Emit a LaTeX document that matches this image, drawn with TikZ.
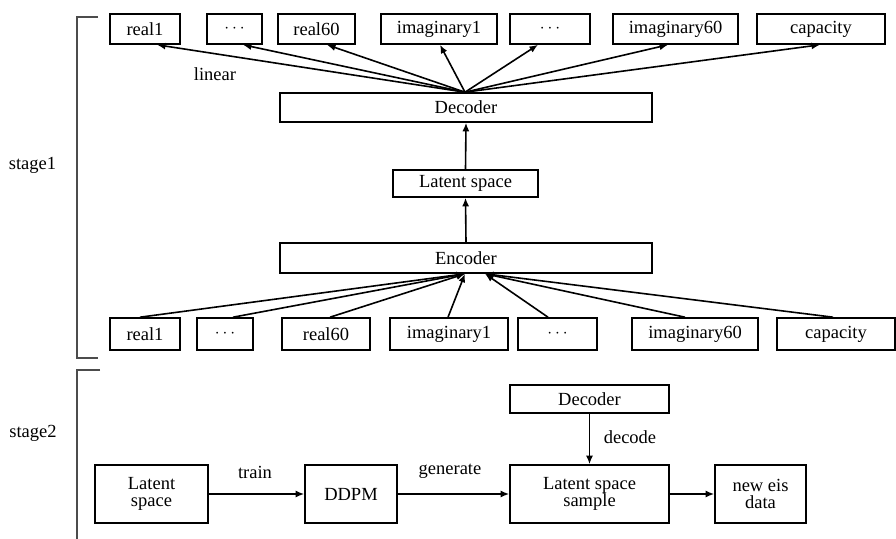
\documentclass[tikz,border=0pt]{standalone}
\usepackage{fontspec}
\setmainfont{Liberation Serif}
\usetikzlibrary{arrows.meta}
\begin{document}
\begin{tikzpicture}[x=1pt,y=-1pt,
  every node/.style={font=\fontsize{18.5}{17}\selectfont},
  box/.style={draw=black,line width=1.6pt,inner sep=0pt,align=center},
  arr/.style={line width=1.6pt,-{Latex[length=8.5pt,width=7pt]}},
  brk/.style={draw=black!70,line width=1.8pt},
  lbl/.style={inner sep=0pt}]
\useasboundingbox (0,0) rectangle (896,538);
% stage1 top row
\node[box,minimum width=70,minimum height=30] (t1) at (145,29) {real1};
\node[box,minimum width=55,minimum height=30] (t2) at (234.5,29) {$\cdots$};
\node[box,minimum width=77,minimum height=30] (t3) at (316.5,29) {real60};
\node[box,minimum width=116,minimum height=30] (t4) at (439,29) {imaginary1};
\node[box,minimum width=80,minimum height=30] (t5) at (550,29) {$\cdots$};
\node[box,minimum width=125,minimum height=30] (t6) at (675.5,29) {imaginary60};
\node[box,minimum width=128,minimum height=30] (t7) at (821,29) {capacity};
% middle
\node[box,minimum width=372,minimum height=29] (dec) at (466,107.5) {Decoder};
\node[box,minimum width=145,minimum height=27] (lat) at (465.5,183.5) {Latent space};
\node[box,minimum width=372,minimum height=30] (enc) at (466,258) {Encoder};
% bottom row
\node[box,minimum width=70,minimum height=32] (b1) at (145,334) {real1};
\node[box,minimum width=56,minimum height=32] (b2) at (225,334) {$\cdots$};
\node[box,minimum width=88,minimum height=32] (b3) at (326,334) {real60};
\node[box,minimum width=118,minimum height=32] (b4) at (449,334) {imaginary1};
\node[box,minimum width=79,minimum height=32] (b5) at (557.5,334) {$\cdots$};
\node[box,minimum width=126,minimum height=32] (b6) at (695,334) {imaginary60};
\node[box,minimum width=118,minimum height=32] (b7) at (836,334) {capacity};
% decoder fan-out
\coordinate (dtop) at ([xshift=-1]dec.north);
\draw[arr] (dtop) -- ([xshift=12]t1.south);
\draw[arr] (dtop) -- ([xshift=8.5]t2.south);
\draw[arr] (dtop) -- ([xshift=10.5]t3.south);
\draw[arr] (dtop) -- ([xshift=1]t4.south);
\draw[arr] (dtop) -- ([xshift=-12]t5.south);
\draw[arr] (dtop) -- ([xshift=-7.5]t6.south);
\draw[arr] (dtop) -- ([xshift=-1]t7.south);
\node[lbl] (linear) at (215,74) {linear};
% vertical chain
\draw[arr] (enc.north) -- (lat.south);
\draw[arr] (lat.north) -- (dec.south);
% encoder fan-in
\coordinate (eL) at ([xshift=-1]enc.south);
\coordinate (eR) at ([xshift=19]enc.south);
\draw[arr] ([xshift=-5]b1.north) -- (eL);
\draw[arr] ([xshift=8]b2.north) -- (eL);
\draw[arr] ([xshift=4]b3.north) -- (eL);
\draw[arr] ([xshift=-1]b4.north) -- (eL);
\draw[arr] ([xshift=-9.5]b5.north) -- (eR);
\draw[arr] ([xshift=-10]b6.north) -- (eR);
\draw[arr] ([xshift=-3]b7.north) -- (eR);
% brackets and stage labels
\draw[brk] (98,17) -- (77,17) -- (77,358) -- (98,358);
\draw[brk] (100,370) -- (77,370) -- (77,540);
\node[lbl] (st1) at (32.5,165) {stage1};
\node[lbl] (st2) at (33,433) {stage2};
% stage2
\node[box,minimum width=113,minimum height=58] (s1) at (151.5,494) {Latent\\space};
\node[box,minimum width=92,minimum height=58] (s2) at (351,494) {DDPM};
\node[box,minimum width=159,minimum height=58] (s3) at (589.5,494) {Latent space\\sample};
\node[box,minimum width=91,minimum height=58] (s4) at (760.5,494) {new eis\\data};
\node[box,minimum width=159,minimum height=28] (s5) at (589.5,399) {Decoder};
\draw[arr] (s1) -- (s2);
\draw[arr] (s2) -- (s3);
\draw[arr] (s3) -- (s4);
\draw[arr] (s5) -- (s3);
\node[lbl] (train) at (255,472) {train};
\node[lbl] (gen) at (450,471) {generate};
\node[lbl] (decode) at (630,437) {decode};
\end{tikzpicture}
\end{document}
